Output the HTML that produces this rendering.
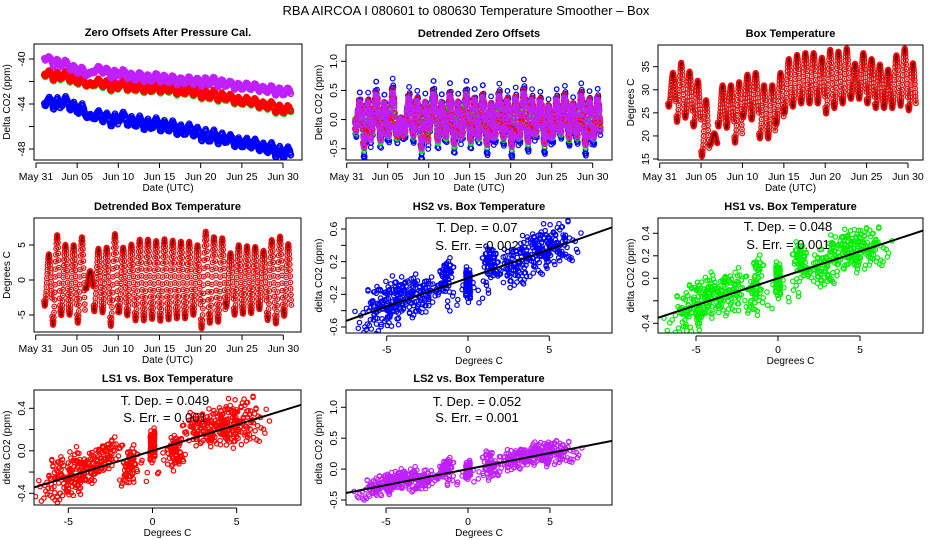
<!DOCTYPE html>
<html><head><meta charset="utf-8">
<style>
html,body{margin:0;padding:0;background:#fff;}
svg{display:block;font-family:"Liberation Sans",sans-serif;}
</style></head>
<body>
<svg id="c" width="936" height="540" viewBox="0 0 936 540">
<text x="466" y="15" text-anchor="middle" font-size="13">RBA   AIRCOA I   080601 to 080630   Temperature Smoother – Box</text>
</svg>
<script>
// ---- data ----
const dayMaxTemp = [33.7,35.9,34.0,32.0,27.8,20.6,31.0,31.0,31.7,33.3,33.7,31.0,31.0,33.7,36.7,37.6,38.0,38.0,37.0,38.7,38.3,39.0,35.7,38.0,36.7,35.5,34.4,37.5,39.0,35.8];
const dayMinTemp = [26.3,23.0,23.9,22.0,15.5,18.0,22.0,21.7,18.5,24.0,23.5,19.4,19.4,22.5,25.0,26.3,27.0,27.0,27.0,24.8,26.0,27.0,28.0,28.0,27.0,26.0,26.0,26.0,26.5,25.5];
const trendLS2 = [-39.9,-40.2,-40.4,-40.6,-41.0,-41.3,-41.0,-41.0,-41.2,-41.3,-41.4,-41.6,-41.6,-41.7,-41.7,-41.8,-41.9,-41.9,-42.0,-42.0,-42.0,-42.1,-42.2,-42.3,-42.4,-42.5,-42.6,-42.7,-42.8,-42.9];
const trendLS1 = [-41.3,-41.4,-41.5,-41.6,-41.9,-42.1,-42.1,-42.2,-42.3,-42.3,-42.4,-42.5,-42.5,-42.6,-42.6,-42.6,-42.7,-42.8,-42.9,-43.0,-43.2,-43.3,-43.4,-43.5,-43.7,-43.8,-44.0,-44.1,-44.3,-44.5];
const trendHS1 = [-41.35,-41.45,-41.55,-41.65,-41.95,-42.15,-42.15,-42.25,-42.35,-42.35,-42.45,-42.55,-42.55,-42.65,-42.65,-42.65,-42.75,-42.85,-42.95,-43.05,-43.25,-43.35,-43.45,-43.55,-43.75,-43.85,-44.05,-44.15,-44.35,-44.55];
const trendHS2 = [-43.9,-43.8,-43.9,-44.0,-44.4,-44.8,-45.0,-45.2,-45.3,-45.3,-45.4,-45.6,-45.7,-45.8,-45.9,-46.0,-46.1,-46.3,-46.4,-46.6,-46.9,-47.0,-47.1,-47.2,-47.4,-47.6,-47.7,-47.9,-48.1,-48.3];
const dayResid = [0.05,-0.1,0.12,-0.05,0.1,-0.15,0.08,0.02,-0.12,0.15,-0.05,0.06,-0.08,0.1,-0.02,0.04,-0.1,0.07,0.0,-0.06,0.09,-0.03,0.05,-0.11,0.03,0.08,-0.04,0.06,-0.07,0.02];
const hourResid = [0.08,-0.05,0.12,0.0,-0.1,0.06,-0.02,0.1,-0.08,0.04,-0.12,0.07,0.02,-0.06,0.11,-0.03,0.05,-0.09,0.0,0.09,-0.04,0.06,-0.07,0.03];
const seriesNames = ["HS2","HS1","LS1","LS2"];
const seriesSlopes = [0.07,0.048,0.049,0.052];
const seriesErr = ["0.002","0.001","0.001","0.001"];
const seriesScale = [1.3,1.0,1.0,0.9];
const seriesShift = [0,7,13,19];
const seriesColors = ["#0000ff","#00ee00","#ff0000","#c020ff"];
const dateTicks = [0,5,10,15,20,25,30];
const dateLabels = ["May 31","Jun 05","Jun 10","Jun 15","Jun 20","Jun 25","Jun 30"];

// ---- helpers ----
const NS="http://www.w3.org/2000/svg";
const svg=document.getElementById('c');
function mk(tag,attrs,parent){const e=document.createElementNS(NS,tag);for(const k in attrs)e.setAttribute(k,attrs[k]);(parent||svg).appendChild(e);return e;}
function scale(v0,p0,v1,p1){return v=>p0+(v-v0)*(p1-p0)/(v1-v0);}
function temp(t){const d=Math.min(29,Math.floor(t)-1),h=t-Math.floor(t);const mean=(dayMaxTemp[d]+dayMinTemp[d])/2,amp=(dayMaxTemp[d]-dayMinTemp[d])/2;const det=amp*Math.cos(2*Math.PI*(h-0.6));return {d:d,h:h,val:mean+det,det:det};}
function co2det(s,t){const T=temp(t);const hr=Math.floor(T.h*24);return seriesSlopes[s]*T.det+seriesScale[s]*(dayResid[T.d]+hourResid[(hr+seriesShift[s])%24]);}
function trendAt(arr,t){const x=t-1;const i=Math.min(28,Math.max(0,Math.floor(x)));const f=Math.min(1,Math.max(0,x-i));return arr[i]*(1-f)+arr[i+1]*f;}
const trends=[trendHS2,trendHS1,trendLS1,trendLS2];
const times=[];for(let k=0;k<30*36;k++)times.push(1+k/36);
const hourly=[];for(let k=0;k<30*24;k++)hourly.push(1+k/24+0.02);

function panel(name,box,title,xs,ys,xticks,xlabels,yticks,ylabels,xtitle,ytitle){
  const g=mk('g',{});
  
  
  const t=mk('text',{x:(box[0]+box[2])/2,y:box[1]-8,'text-anchor':'middle','font-size':11,'font-weight':'bold'},g);t.textContent=title;
  
  
  const ax=mk('g',{stroke:'#000','stroke-width':1,fill:'none'},g);
  
  
  const yb=box[3]+3;
  mk('line',{x1:xs(xticks[0]),x2:xs(xticks[xticks.length-1]),y1:yb,y2:yb},ax);
  xticks.forEach((v,i)=>{mk('line',{x1:xs(v),x2:xs(v),y1:yb,y2:yb+5},ax);
    const l=mk('text',{x:xs(v),y:box[3]+20,'text-anchor':'middle','font-size':10.5,fill:'#000',stroke:'none'},g);l.textContent=xlabels[i];
    
    });
  const xl=box[0];
  mk('line',{x1:xl,x2:xl,y1:ys(yticks[0]),y2:ys(yticks[yticks.length-1])},ax);
  yticks.forEach((v,i)=>{mk('line',{x1:xl,x2:xl-5,y1:ys(v),y2:ys(v)},ax);
    if(ylabels[i]!==''){const yy=ys(v);const l=mk('text',{x:xl-9,y:yy,'text-anchor':'middle','font-size':10.5,fill:'#000',stroke:'none',transform:'rotate(-90 '+(xl-9)+' '+yy+')'},g);l.textContent=ylabels[i];
    
    }});
  const xt=mk('text',{x:(box[0]+box[2])/2,y:box[3]+31,'text-anchor':'middle','font-size':10},g);xt.textContent=xtitle;
  
  
  const yx=box[0]-24,yy=(box[1]+box[3])/2;
  const yt=mk('text',{x:yx,y:yy,'text-anchor':'middle','font-size':10,transform:'rotate(-90 '+yx+' '+yy+')'},g);yt.textContent=ytitle;
  
  
  const clipId='cl'+name;const cp=mk('clipPath',{id:clipId},g);mk('rect',{x:box[0],y:box[1],width:box[2]-box[0],height:box[3]-box[1]},cp);
  const plot=mk('g',{'clip-path':'url(#'+clipId+')',fill:'none','stroke-width':1.2},g);
  
  
  const fr=mk('rect',{x:box[0],y:box[1],width:box[2]-box[0],height:box[3]-box[1],fill:'none',stroke:'#000'},g);
  
  
  return plot;
}
function dots(parent,pts,color,name,r){
  const g=mk('g',{stroke:color},parent);
  
  
  let d='';const rr=r||2.2;
  pts.forEach(p=>{d+='M'+(p[0]-rr).toFixed(1)+','+p[1].toFixed(1)+'a'+rr+','+rr+' 0 1,0 '+(2*rr)+',0a'+rr+','+rr+' 0 1,0 '+(-2*rr)+',0';});
  mk('path',{d:d},g);
}

// ---- panel 1 ----
{const box=[34,44,302,160];const xs=scale(0,36,30,283),ys=scale(-40,59,-48,149);
 const p=panel('zero-offsets-panel',box,'Zero Offsets After Pressure Cal.',xs,ys,dateTicks,dateLabels,[-40,-42,-44,-46,-48],['-40','','-44','','-48'],'Date (UTC)','Delta CO2  (ppm)');
 [1,2,0,3].forEach(s=>dots(p,times.map(t=>[xs(t),ys(trendAt(trends[s],t)+co2det(s,t))]),seriesColors[s],'series-'+seriesNames[s].toLowerCase(),2.6));}
// ---- panel 2 ----
{const box=[346,45,612,160];const xs=scale(0,346.7,30,592.7),ys=scale(1,61.3,-0.5,148.7);
 const p=panel('detrended-offsets-panel',box,'Detrended Zero Offsets',xs,ys,dateTicks,dateLabels,[-0.5,0,0.5,1],['-0.5','0.0','0.5','1.0'],'Date (UTC)','Delta CO2  (ppm)');
 [0,1,2,3].forEach(s=>dots(p,times.map(t=>[xs(t),ys(co2det(s,t))]),seriesColors[s],'series-'+seriesNames[s].toLowerCase(),2.3));}
// ---- panel 3 ----
{const box=[658,45,923,160];const xs=scale(0,659.7,30,908),ys=scale(35,66.7,15,159);
 const p=panel('box-temperature-panel',box,'Box Temperature',xs,ys,dateTicks,dateLabels,[15,20,25,30,35],['15','20','25','30','35'],'Date (UTC)','Degrees C');
 const pts=times.map(t=>[xs(t),ys(temp(t).val)]);
 dots(p,pts,'#ff0000','box-temp-points',2.3);dots(p,pts,'#400','box-temp-centers',0.3);}
// ---- panel 4 ----
{const box=[34,218,301,332];const xs=scale(0,35.7,30,283.3),ys=scale(5,245,-5,315);
 const p=panel('detrended-temp-panel',box,'Detrended Box Temperature',xs,ys,dateTicks,dateLabels,[-5,0,5],['-5','0','5'],'Date (UTC)','Degrees C');
 const pts=times.map(t=>[xs(t),ys(temp(t).det)]);
 dots(p,pts,'#ff0000','detrended-temp-points',2.3);dots(p,pts,'#400','detrended-temp-centers',0.3);}
// ---- scatter panels ----
const scat=[
 {s:0,name:'hs2-scatter-panel',box:[346,218,612,333],xa:[-5,386.7,5,549.3],ya:[0.6,229,-0.6,327],yt:[-0.6,-0.4,-0.2,0,0.2,0.4,0.6],yl:['-0.6','','-0.2','','0.2','','0.6'],ann:[477,232,250]},
 {s:1,name:'hs1-scatter-panel',box:[658,218,923,333],xa:[-5,696,5,860],ya:[0.4,233.3,-0.4,323.3],yt:[-0.4,-0.2,0,0.2,0.4],yl:['-0.4','','0.0','0.2','0.4'],ann:[788,231,249]},
 {s:2,name:'ls1-scatter-panel',box:[34,390,301,505],xa:[-5,68.3,5,236.7],ya:[0.4,408.3,-0.4,493.3],yt:[-0.4,-0.2,0,0.2,0.4],yl:['-0.4','','0.0','','0.4'],ann:[165,405,422]},
 {s:3,name:'ls2-scatter-panel',box:[346,390,612,505],xa:[-5,386,5,550],ya:[1,407.3,-0.5,500],yt:[-0.5,0,0.5,1],yl:['-0.5','0.0','0.5','1.0'],ann:[477,406,422]}
];
scat.forEach(c=>{
 const xs=scale(c.xa[0],c.xa[1],c.xa[2],c.xa[3]),ys=scale(c.ya[0],c.ya[1],c.ya[2],c.ya[3]);
 const p=panel(c.name,c.box,seriesNames[c.s]+' vs. Box Temperature',xs,ys,[-5,0,5],['-5','0','5'],c.yt,c.yl,'Degrees C','delta CO2 (ppm)');
 dots(p,hourly.map(t=>[xs(temp(t).det),ys(co2det(c.s,t))]),seriesColors[c.s],'scatter-points');
 const x0=-9,x1=10;
 const ln=mk('line',{x1:xs(x0),y1:ys(seriesSlopes[c.s]*x0),x2:xs(x1),y2:ys(seriesSlopes[c.s]*x1),stroke:'#000','stroke-width':2},p);
 
 
 const a1=mk('text',{x:c.ann[0],y:c.ann[1],'text-anchor':'middle','font-size':13,fill:'#000'});a1.textContent='T. Dep. =  '+seriesSlopes[c.s];
 
 
 const a2=mk('text',{x:c.ann[0],y:c.ann[2],'text-anchor':'middle','font-size':13,fill:'#000'});a2.textContent='S. Err. =  '+seriesErr[c.s];
 
 
});
</script>
</body></html>
